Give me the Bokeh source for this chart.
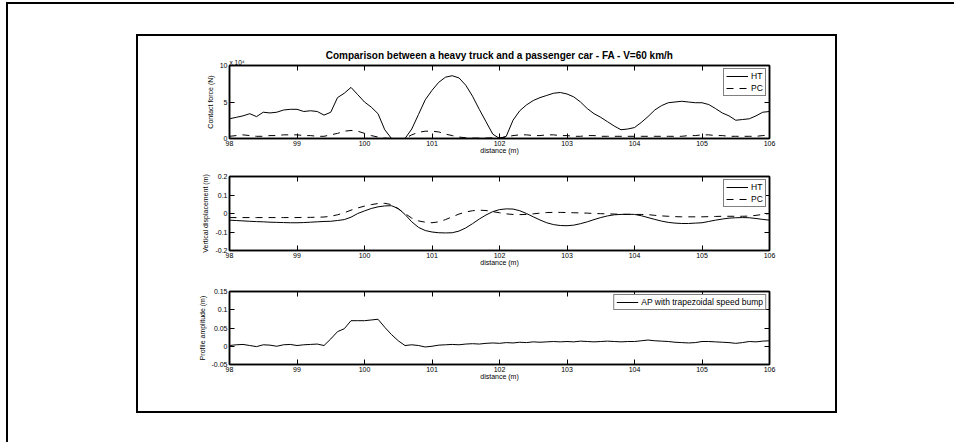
from bokeh.plotting import figure
from bokeh.layouts import column, row
from bokeh.models import LinearAxis, Legend, LegendItem, Title, FixedTicker, Range1d, Spacer
from bokeh.embed import file_html
from bokeh.resources import INLINE

# ---------------- data ----------------
TITLE = "Comparison between a heavy truck and a passenger car - FA - V=60 km/h"
FORCE_SCALE = "x 10\u2074"
X_TICKS = [98, 99, 100, 101, 102, 103, 104, 105, 106]

DIST = [98.0, 98.1, 98.2, 98.3, 98.4, 98.5, 98.6, 98.7, 98.8, 98.9,
        99.0, 99.1, 99.2, 99.3, 99.4, 99.5, 99.6, 99.7, 99.8, 99.9,
        100.0, 100.1, 100.2, 100.3, 100.4, 100.5, 100.6, 100.7, 100.8, 100.9,
        101.0, 101.1, 101.2, 101.3, 101.4, 101.5, 101.6, 101.7, 101.8, 101.9,
        102.0, 102.1, 102.2, 102.3, 102.4, 102.5, 102.6, 102.7, 102.8, 102.9,
        103.0, 103.1, 103.2, 103.3, 103.4, 103.5, 103.6, 103.7, 103.8, 103.9,
        104.0, 104.1, 104.2, 104.3, 104.4, 104.5, 104.6, 104.7, 104.8, 104.9,
        105.0, 105.1, 105.2, 105.3, 105.4, 105.5, 105.6, 105.7, 105.8, 105.9,
        106.0]

# contact force, in units of 1e4 N
HT_FORCE = [2.7, 2.9, 3.1, 3.4, 3.0, 3.6, 3.5, 3.6, 3.9, 4.0,
            4.0, 3.7, 3.8, 3.7, 3.2, 3.6, 5.6, 6.2, 7.0, 6.0,
            5.0, 4.3, 3.4, 1.2, 0.0, 0.0, 0.0, 1.3, 3.3, 5.3,
            6.6, 7.7, 8.4, 8.6, 8.3, 7.3, 5.8, 4.0, 2.3, 0.6,
            0.0, 0.3, 2.5, 3.8, 4.6, 5.2, 5.6, 5.9, 6.2, 6.3,
            6.1, 5.7, 5.0, 4.1, 3.4, 2.9, 2.3, 1.7, 1.2, 1.3,
            1.5, 2.2, 3.0, 3.9, 4.5, 4.9, 5.0, 5.1, 5.0, 4.9,
            4.9, 4.65, 4.1, 3.5, 3.1, 2.5, 2.6, 2.7, 3.1, 3.6,
            3.7]
PC_FORCE = [0.3, 0.4, 0.5, 0.4, 0.3, 0.3, 0.4, 0.4, 0.5, 0.5,
            0.5, 0.4, 0.4, 0.3, 0.3, 0.5, 0.7, 1.0, 1.1, 1.0,
            0.7, 0.4, 0.2, 0.05, 0.0, 0.0, 0.0, 0.5, 0.85, 1.0,
            1.0, 0.9, 0.6, 0.4, 0.2, 0.1, 0.05, 0.05, 0.05, 0.1,
            0.1, 0.2, 0.4, 0.5, 0.5, 0.4, 0.4, 0.5, 0.5, 0.4,
            0.4, 0.3, 0.3, 0.4, 0.4, 0.3, 0.3, 0.3, 0.3, 0.3,
            0.3, 0.3, 0.3, 0.3, 0.3, 0.3, 0.3, 0.3, 0.4, 0.4,
            0.5, 0.5, 0.4, 0.4, 0.3, 0.3, 0.3, 0.3, 0.3, 0.4,
            0.5]

HT_DISP = [-0.036, -0.038, -0.040, -0.042, -0.044, -0.045, -0.047, -0.048, -0.049, -0.050,
           -0.050, -0.049, -0.047, -0.045, -0.043, -0.042, -0.038, -0.033, -0.020, 0.000,
           0.014, 0.027, 0.036, 0.041, 0.042, 0.027, -0.005, -0.045, -0.075, -0.092,
           -0.100, -0.104, -0.105, -0.104, -0.095, -0.078, -0.055, -0.030, -0.008, 0.010,
           0.021, 0.025, 0.024, 0.015, 0.000, -0.018, -0.035, -0.050, -0.060, -0.065,
           -0.066, -0.063, -0.055, -0.045, -0.033, -0.022, -0.013, -0.007, -0.005, -0.004,
           -0.005, -0.012, -0.022, -0.032, -0.041, -0.048, -0.052, -0.054, -0.054, -0.052,
           -0.050, -0.043, -0.036, -0.030, -0.025, -0.023, -0.022, -0.023, -0.027, -0.032,
           -0.036]
PC_DISP = [-0.022, -0.022, -0.022, -0.022, -0.022, -0.022, -0.022, -0.022, -0.022, -0.022,
           -0.022, -0.021, -0.021, -0.020, -0.019, -0.015, -0.007, 0.004, 0.018, 0.030,
           0.040, 0.048, 0.054, 0.055, 0.048, 0.025, 0.000, -0.025, -0.040, -0.047,
           -0.050, -0.045, -0.033, -0.018, -0.003, 0.008, 0.015, 0.018, 0.016, 0.010,
           0.004, -0.002, -0.005, -0.006, -0.005, -0.002, 0.002, 0.005, 0.006, 0.006,
           0.005, 0.004, 0.003, 0.002, 0.000, -0.001, -0.002, -0.003, -0.004, -0.005,
           -0.005, -0.005, -0.006, -0.010, -0.013, -0.015, -0.017, -0.018, -0.018, -0.018,
           -0.018, -0.017, -0.016, -0.015, -0.015, -0.015, -0.015, -0.014, -0.010, -0.005,
           0.000]

PROFILE = [0.002, 0.004, 0.005, 0.002, -0.001, 0.004, 0.003, 0.000, 0.004, 0.005,
           0.002, 0.004, 0.005, 0.006, 0.002, 0.020, 0.040, 0.048, 0.070, 0.070,
           0.070, 0.072, 0.074, 0.052, 0.032, 0.015, 0.002, 0.004, 0.002, -0.002,
           0.000, 0.003, 0.004, 0.005, 0.004, 0.006, 0.007, 0.006, 0.008, 0.009,
           0.008, 0.010, 0.009, 0.011, 0.010, 0.012, 0.011, 0.012, 0.013, 0.012,
           0.013, 0.012, 0.014, 0.013, 0.012, 0.013, 0.014, 0.013, 0.012, 0.013,
           0.013, 0.015, 0.017, 0.015, 0.014, 0.013, 0.011, 0.010, 0.009, 0.010,
           0.013, 0.013, 0.012, 0.011, 0.010, 0.008, 0.010, 0.013, 0.012, 0.014,
           0.015]

Y1_TICKS = [0, 5, 10]
Y1_LABELS = ["0", "5", "10"]
Y2_TICKS = [-0.2, -0.1, 0, 0.1, 0.2]
Y2_LABELS = ["-0.2", "-0.1", "0", "0.1", "0.2"]
Y3_TICKS = [-0.05, 0, 0.05, 0.1, 0.15]
Y3_LABELS = ["-0.05", "0", "0.05", "0.1", "0.15"]

FONT = "Liberation Sans"
DASH = "7 6"


def base_fig(height, b_top, b_bottom, y_lo, y_hi, y_ticks, y_labels, y_label):
    p = figure(width=697, height=height, output_backend="svg", toolbar_location=None,
               x_range=Range1d(X_TICKS[0], X_TICKS[-1]), y_range=Range1d(y_lo, y_hi),
               min_border_left=91, min_border_right=66,
               min_border_top=b_top, min_border_bottom=b_bottom,
               background_fill_color="white", border_fill_color="white")
    p.grid.visible = False
    p.outline_line_color = "black"
    p.outline_line_width = 1.5
    p.add_layout(LinearAxis(), "above")
    p.add_layout(LinearAxis(), "right")
    for ax in p.axis:
        ax.axis_line_color = "black"
        ax.axis_line_width = 1.5
        ax.major_tick_in = 5
        ax.major_tick_out = 0
        ax.major_tick_line_color = "black"
        ax.minor_tick_line_color = None
        ax.major_label_text_font = FONT
        ax.major_label_text_font_size = "7px"
        ax.major_label_text_color = "black"
        ax.major_label_standoff = 2
        ax.axis_label_text_font = FONT
        ax.axis_label_text_font_size = "7px"
        ax.axis_label_text_font_style = "normal"
        ax.axis_label_text_color = "black"
        ax.axis_label_standoff = 3
    p.xaxis.ticker = FixedTicker(ticks=X_TICKS)
    p.yaxis.ticker = FixedTicker(ticks=y_ticks)
    p.yaxis.major_label_overrides = dict(zip(y_ticks, y_labels))
    for ax in (p.above[0], p.right[0]):
        ax.major_label_text_color = None
    p.below[0].axis_label = "distance (m)"
    p.below[0].axis_label_standoff = -2
    p.left[0].axis_label = y_label
    return p


def legend(items):
    return Legend(items=items, location="top_right", margin=3, padding=2, spacing=2,
                  glyph_width=22, glyph_height=10, label_height=10, label_width=12,
                  label_standoff=3,
                  label_text_font=FONT, label_text_font_size="8.5px", label_text_color="black",
                  border_line_color="black", border_line_width=1.2,
                  background_fill_color="white", background_fill_alpha=1.0)


# ---------- plot 1: contact force ----------
f1 = base_fig(124, 29, 22, 0, 10, Y1_TICKS, Y1_LABELS, "Contact force (N)")
f1.add_layout(Title(text=FORCE_SCALE, align="left", text_font=FONT, text_font_size="6.5px",
                    text_font_style="normal", text_color="black", standoff=0), "above")
f1.title.text = TITLE
f1.title.align = "center"
f1.title.text_font = FONT
f1.title.text_font_size = "10px"
f1.title.text_font_style = "bold"
f1.title.text_color = "black"
f1.title.standoff = -8
r1 = f1.line(DIST, HT_FORCE, line_color="black", line_width=1)
r2 = f1.line(DIST, PC_FORCE, line_color="black", line_width=1, line_dash=DASH)
f1.add_layout(legend([LegendItem(label="HT", renderers=[r1]), LegendItem(label="PC", renderers=[r2])]))

# ---------- plot 2: vertical displacement ----------
f2 = base_fig(115, 16, 25, -0.2, 0.2, Y2_TICKS, Y2_LABELS, "Vertical displacement (m)")
r3 = f2.line(DIST, HT_DISP, line_color="black", line_width=1)
r4 = f2.line(DIST, PC_DISP, line_color="black", line_width=1, line_dash=DASH)
f2.add_layout(legend([LegendItem(label="HT", renderers=[r3]), LegendItem(label="PC", renderers=[r4])]))

# ---------- plot 3: profile amplitude ----------
f3 = base_fig(136, 16, 47, -0.05, 0.15, Y3_TICKS, Y3_LABELS, "Profile amplitude (m)")
r5 = f3.line(DIST, PROFILE, line_color="black", line_width=1)
f3.add_layout(legend([LegendItem(label="AP with trapezoidal speed bump", renderers=[r5])]))

inner = column(f1, f2, f3, styles={"border": "2px solid black"})
root = column(Spacer(height=30), row(Spacer(width=128), inner, Spacer(width=117)), Spacer(height=29),
              styles={"border-top": "2px solid black", "border-left": "2px solid black",
                      "margin-top": "2px", "margin-left": "6px"})

open("out.html", "w").write(file_html(root, INLINE))
